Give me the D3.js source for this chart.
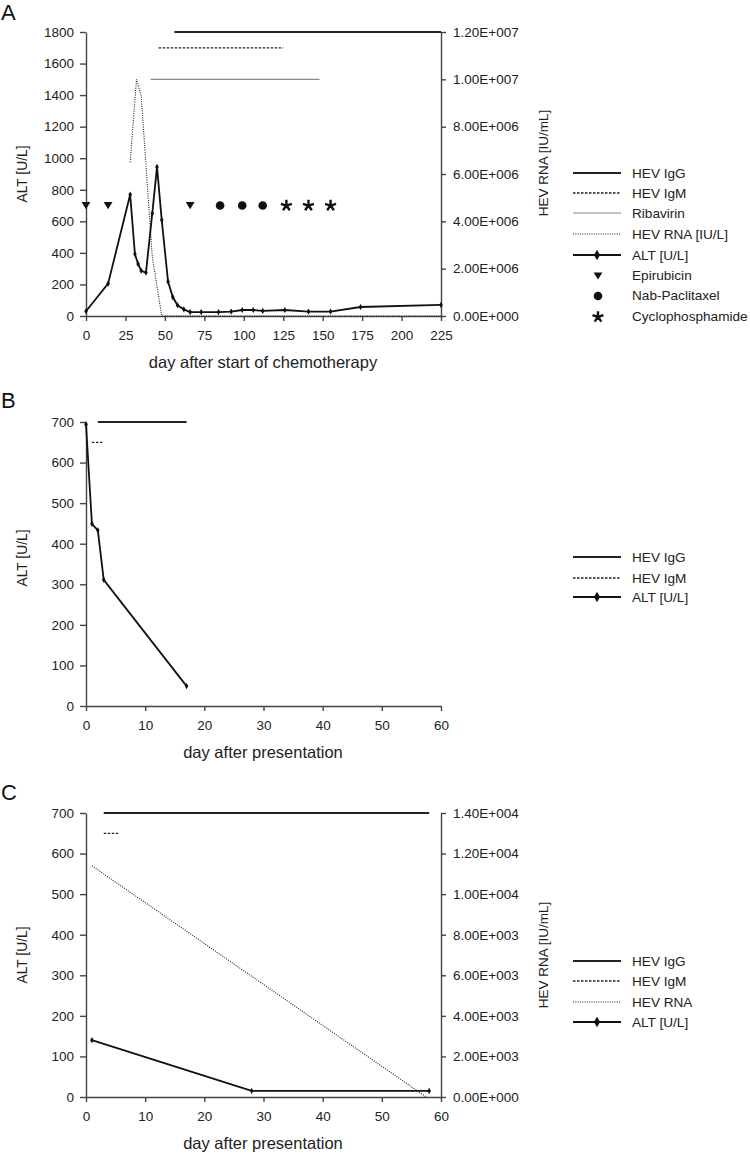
<!DOCTYPE html>
<html><head><meta charset="utf-8">
<script src="https://cdn.jsdelivr.net/npm/d3@7"></script>
<style>
body{margin:0;background:#fff;}
svg{display:block;font-family:"Liberation Sans",Arial,Helvetica,sans-serif;}
.axis path,.axis line{stroke:#444;stroke-width:1.4;}
.axis text{font-size:13.5px;fill:#222;font-family:"Liberation Sans",Arial,sans-serif;}
</style></head>
<body>
<svg id="chart" width="750" height="1154"></svg>
<script>
// ---------- Panel A data ----------
const dayA = [0,14,28,31,33,35,38,42,45,48,52,55,58,62,66,73,84,92,99,106,112,126,141,155,174,225];
const altA = [30,205,770,393,330,287,275,650,945,608,218,120,68,42,25,25,25,28,38,38,32,38,28,28,57,70];
const rnaDayA = [28,32,35,42,48,225];
const rnaA = [6.5e6,1.0e7,9.3e6,2.5e6,0,0];
const iggA = [56,225], iggLevelA = 1800;
const igmA = [46,125], igmLevelA = 1700;
const ribaA = [41,148], ribaLevelA = 1500;
const drugLevelA = 700;
const epirubicinA = [0,14,66];
const nabA = [85,99,112];
const cycloA = [127,141,155];
const xTicksA = [0,25,50,75,100,125,150,175,200,225];
const yTicksA = [0,200,400,600,800,1000,1200,1400,1600,1800];
const rTicksA = [0,2e6,4e6,6e6,8e6,1e7,1.2e7];
const legendA = ["HEV IgG","HEV IgM","Ribavirin","HEV RNA [IU/L]","ALT [U/L]","Epirubicin","Nab-Paclitaxel","Cyclophosphamide"];

// ---------- Panel B data ----------
const dayB = [0,1,2,3,17];
const altB = [694,449,433,311,49];
const iggB = [2,17], iggLevelB = 700;
const igmB = [1,3], igmLevelB = 650;
const xTicksB = [0,10,20,30,40,50,60];
const yTicksB = [0,100,200,300,400,500,600,700];
const legendB = ["HEV IgG","HEV IgM","ALT [U/L]"];

// ---------- Panel C data ----------
const dayC = [1,28,58];
const altC = [140,15,15];
const rnaDayC = [1,57.5];
const rnaC = [11400,0];
const iggC = [3,58], iggLevelC = 700;
const igmC = [3,5.5], igmLevelC = 650;
const xTicksC = [0,10,20,30,40,50,60];
const yTicksC = [0,100,200,300,400,500,600,700];
const rTicksC = [0,2000,4000,6000,8000,10000,12000,14000];
const legendC = ["HEV IgG","HEV IgM","HEV RNA","ALT [U/L]"];

const svg = d3.select("#chart");
svg.append("rect").attr("width",750).attr("height",1154).attr("fill","#fff");

function fmtE(v){
  if(v===0) return "0.00E+000";
  const e = Math.floor(Math.log10(v)+1e-9);
  const m = v/Math.pow(10,e);
  return m.toFixed(2)+"E+"+String(e).padStart(3,"0");
}

const styles = {
  igg:{stroke:"#222",width:2,dash:null},
  igm:{stroke:"#222",width:1.3,dash:"2.5,1.5"},
  riba:{stroke:"#888",width:1.2,dash:null},
  rna:{stroke:"#222",width:1.1,dash:"1,1.3"},
  alt:{stroke:"#111",width:1.8,dash:null}
};

const starType = {
  draw(ctx,size){
    const r = Math.sqrt(size)/1.6;
    for(let i=0;i<5;i++){
      const a = -Math.PI/2 + i*2*Math.PI/5;
      ctx.moveTo(0,0);
      ctx.lineTo(r*Math.cos(a), r*Math.sin(a));
    }
  }
};
const triDown = {
  draw(ctx,size){
    const w = Math.sqrt(size)*1.1, h = w*0.82;
    ctx.moveTo(-w/2,-h/2); ctx.lineTo(w/2,-h/2); ctx.lineTo(0,h/2); ctx.closePath();
  }
};

function drawMarker(g,kind,x,y){
  if(kind==="tri"){
    g.append("path").attr("d",d3.symbol().type(triDown).size(64)()).attr("transform",`translate(${x},${y})`).attr("fill","#111");
  } else if(kind==="circle"){
    g.append("circle").attr("cx",x).attr("cy",y).attr("r",4.3).attr("fill","#111");
  } else if(kind==="star"){
    g.append("path").attr("d",d3.symbol().type(starType).size(85)()).attr("transform",`translate(${x},${y})`).attr("stroke","#111").attr("stroke-width",2.4).attr("fill","none");
  } else if(kind==="diamond"){
    g.append("path").attr("d",d3.symbol().type(d3.symbolDiamond).size(11)()).attr("transform",`translate(${x},${y})`).attr("fill","#111");
  }
}

function styleLine(sel,st){
  sel.attr("stroke",st.stroke).attr("stroke-width",st.width).attr("fill","none");
  if(st.dash) sel.attr("stroke-dasharray",st.dash);
  return sel;
}

function panel(cfg){
  const g = svg.append("g");
  const x = d3.scaleLinear().domain(cfg.xDomain).range([86,441]);
  const y = d3.scaleLinear().domain(cfg.yDomain).range([cfg.bottom,cfg.bottom-284]);
  g.append("text").attr("x",1).attr("y",cfg.letterY).attr("font-size",22).attr("fill","#111").text(cfg.letter);
  g.append("g").attr("class","axis").attr("transform",`translate(86,0)`)
    .call(d3.axisLeft(y).tickValues(cfg.yTicks).tickSize(6).tickSizeOuter(0).tickPadding(6).tickFormat(d3.format("d")));
  g.append("g").attr("class","axis").attr("transform",`translate(0,${cfg.bottom})`)
    .call(d3.axisBottom(x).tickValues(cfg.xTicks).tickSize(5).tickSizeOuter(0).tickPadding(9).tickFormat(d3.format("d")));
  let yr = null;
  if(cfg.rDomain){
    yr = d3.scaleLinear().domain(cfg.rDomain).range([cfg.bottom,cfg.bottom-284]);
    g.append("g").attr("class","axis").attr("transform",`translate(441,0)`)
      .call(d3.axisRight(yr).tickValues(cfg.rTicks).tickSize(5).tickSizeOuter(0).tickPadding(7).tickFormat(fmtE));
    g.append("text").attr("transform",`translate(543,${cfg.rLabelY}) rotate(-90)`).attr("text-anchor","middle")
      .attr("dominant-baseline","central").attr("font-size",13.5).attr("fill","#222").text(cfg.rLabel);
  }
  g.append("text").attr("transform",`translate(22,${cfg.yLabelY}) rotate(-90)`).attr("text-anchor","middle")
    .attr("dominant-baseline","central").attr("font-size",13.8).attr("fill","#222").text("ALT [U/L]");
  g.append("text").attr("x",263).attr("y",cfg.bottom+46).attr("text-anchor","middle")
    .attr("dominant-baseline","central").attr("font-size",16.5).attr("fill","#222").text(cfg.xLabel);

  cfg.bars.forEach(b=>{
    styleLine(g.append("line").attr("x1",x(b.range[0])).attr("x2",x(b.range[1])).attr("y1",y(b.level)).attr("y2",y(b.level)),styles[b.style]);
  });
  if(cfg.rna){
    const line = d3.line().x(d=>x(d[0])).y(d=>yr(d[1]));
    styleLine(g.append("path").attr("d",line(d3.zip(cfg.rna.days,cfg.rna.vals))),styles.rna);
  }
  const lineA = d3.line().x(d=>x(d[0])).y(d=>y(d[1]));
  const pts = d3.zip(cfg.alt.days,cfg.alt.vals);
  styleLine(g.append("path").attr("d",lineA(pts)),styles.alt);
  pts.forEach(p=>drawMarker(g,"diamond",x(p[0]),y(p[1])));
  if(cfg.drugs){
    cfg.drugs.forEach(dr=>dr.days.forEach(d=>drawMarker(g,dr.kind,x(d),y(cfg.drugLevel))));
  }
  cfg.legend.forEach((item,i)=>{
    const yy = cfg.legendY[i];
    if(item.style){
      styleLine(g.append("line").attr("x1",573).attr("x2",621).attr("y1",yy).attr("y2",yy),styles[item.style]);
      if(item.style==="alt"){
        g.append("path").attr("d",d3.symbol().type(d3.symbolDiamond).size(32)()).attr("transform",`translate(597,${yy})`).attr("fill","#111");
      }
    } else {
      drawMarker(g,item.kind,598,yy+1);
    }
    g.append("text").attr("x",632).attr("y",yy).attr("dominant-baseline","central")
      .attr("font-size",13.6).attr("fill","#222").text(item.label);
  });
}

panel({
  letter:"A", letterY:20, bottom:316,
  xDomain:[0,225], yDomain:[0,1800], xTicks:xTicksA, yTicks:yTicksA,
  rDomain:[0,1.2e7], rTicks:rTicksA, rLabel:"HEV RNA [IU/mL]", rLabelY:163, yLabelY:174,
  xLabel:"day after start of chemotherapy",
  bars:[{range:iggA,level:iggLevelA,style:"igg"},{range:igmA,level:igmLevelA,style:"igm"},{range:ribaA,level:ribaLevelA,style:"riba"}],
  rna:{days:rnaDayA,vals:rnaA},
  alt:{days:dayA,vals:altA},
  drugLevel:drugLevelA,
  drugs:[{kind:"tri",days:epirubicinA},{kind:"circle",days:nabA},{kind:"star",days:cycloA}],
  legend:[
    {label:legendA[0],style:"igg"},{label:legendA[1],style:"igm"},{label:legendA[2],style:"riba"},
    {label:legendA[3],style:"rna"},{label:legendA[4],style:"alt"},
    {label:legendA[5],kind:"tri"},{label:legendA[6],kind:"circle"},{label:legendA[7],kind:"star"}],
  legendY:[173,193,213,234,255,275,295,316]
});

panel({
  letter:"B", letterY:408, bottom:706,
  xDomain:[0,60], yDomain:[0,700], xTicks:xTicksB, yTicks:yTicksB,
  yLabelY:558, xLabel:"day after presentation",
  bars:[{range:iggB,level:iggLevelB,style:"igg"},{range:igmB,level:igmLevelB,style:"igm"}],
  alt:{days:dayB,vals:altB},
  legend:[{label:legendB[0],style:"igg"},{label:legendB[1],style:"igm"},{label:legendB[2],style:"alt"}],
  legendY:[557,578,597]
});

panel({
  letter:"C", letterY:800, bottom:1097,
  xDomain:[0,60], yDomain:[0,700], xTicks:xTicksC, yTicks:yTicksC,
  rDomain:[0,14000], rTicks:rTicksC, rLabel:"HEV RNA [IU/mL]", rLabelY:955, yLabelY:955,
  xLabel:"day after presentation",
  bars:[{range:iggC,level:iggLevelC,style:"igg"},{range:igmC,level:igmLevelC,style:"igm"}],
  rna:{days:rnaDayC,vals:rnaC},
  alt:{days:dayC,vals:altC},
  legend:[{label:legendC[0],style:"igg"},{label:legendC[1],style:"igm"},{label:legendC[2],style:"rna"},{label:legendC[3],style:"alt"}],
  legendY:[961,981,1002,1022]
});
</script>
</body></html>
